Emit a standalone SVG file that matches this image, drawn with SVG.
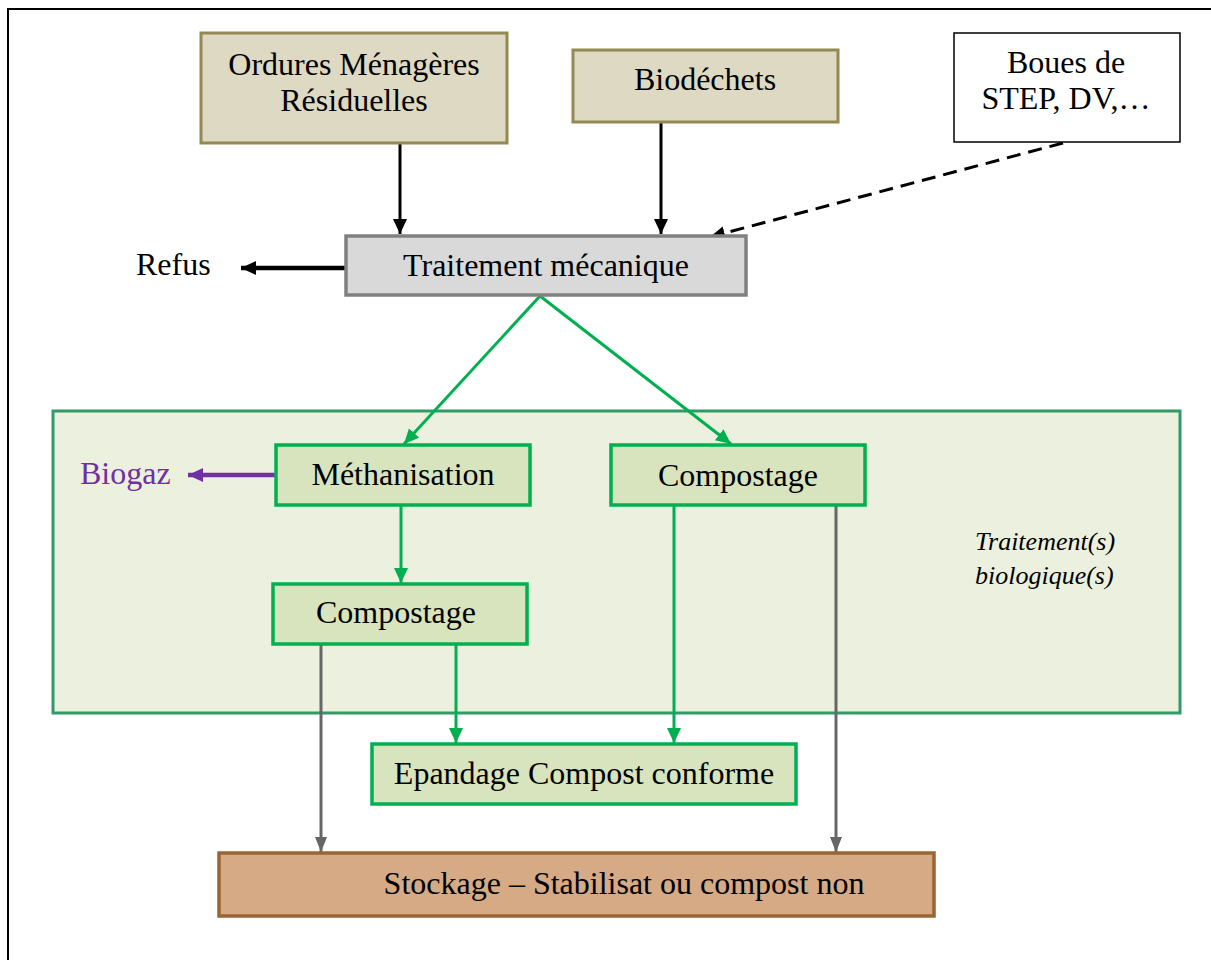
<svg xmlns="http://www.w3.org/2000/svg" width="1211" height="960" viewBox="0 0 1211 960">
<style>
text{font-family:"Liberation Serif","Times New Roman",serif;font-size:32px;fill:#000}
.c{text-anchor:middle}
.it{font-size:26px;font-style:italic}
.src{fill:#ddd9c3;stroke:#938953;stroke-width:3}
.bio{fill:#d7e4bd;stroke:#00b050;stroke-width:3.5}
.blk{stroke:#000;stroke-width:3;fill:none}
.grn{stroke:#00b050;stroke-width:3;fill:none}
.gry{stroke:#666;stroke-width:3;fill:none}
</style>
<defs>
<marker id="aB" markerUnits="userSpaceOnUse" markerWidth="16" markerHeight="16" refX="15" refY="7" orient="auto"><path d="M0,0 L15,7 L0,14 Z" fill="#000"/></marker>
<marker id="aG" markerUnits="userSpaceOnUse" markerWidth="16" markerHeight="16" refX="15" refY="7" orient="auto"><path d="M0,0 L15,7 L0,14 Z" fill="#00b050"/></marker>
<marker id="aY" markerUnits="userSpaceOnUse" markerWidth="16" markerHeight="16" refX="15" refY="6" orient="auto"><path d="M0,0 L15,6 L0,12 Z" fill="#666"/></marker>
<marker id="aP" markerUnits="userSpaceOnUse" markerWidth="16" markerHeight="16" refX="15" refY="7" orient="auto"><path d="M0,0 L15,7 L0,14 Z" fill="#7030a0"/></marker>
</defs>
<rect width="1211" height="960" fill="#fff"/>
<path d="M8,962 L8,9 L1213,9" fill="none" stroke="#000" stroke-width="2"/>
<g id="bio-zone">
<rect x="53" y="411" width="1127" height="302" fill="#ebf1de" stroke="#339966" stroke-width="3"/>
<text class="it" x="975" y="550">Traitement(s)</text>
<text class="it" x="975" y="584">biologique(s)</text>
</g>
<g id="connectors">
<line class="blk" x1="400" y1="143" x2="400" y2="234" marker-end="url(#aB)"/>
<line class="blk" x1="661" y1="122" x2="661" y2="234" marker-end="url(#aB)"/>
<line class="blk" x1="1063" y1="143" x2="710" y2="237" stroke-dasharray="14,8" marker-end="url(#aB)"/>
<line x1="346" y1="268" x2="241" y2="268" stroke="#000" stroke-width="4.5" marker-end="url(#aB)"/>
<line class="grn" x1="540" y1="296" x2="404" y2="444" marker-end="url(#aG)"/>
<line class="grn" x1="540" y1="296" x2="731" y2="444" marker-end="url(#aG)"/>
<line x1="276" y1="475" x2="188" y2="475" stroke="#7030a0" stroke-width="4.5" marker-end="url(#aP)"/>
<line class="grn" x1="401" y1="505" x2="401" y2="583" marker-end="url(#aG)"/>
<line class="grn" x1="456" y1="644" x2="456" y2="743" marker-end="url(#aG)"/>
<line class="grn" x1="674" y1="505" x2="674" y2="743" marker-end="url(#aG)"/>
<line class="gry" x1="321" y1="644" x2="321" y2="852" marker-end="url(#aY)"/>
<line class="gry" x1="836" y1="505" x2="836" y2="852" marker-end="url(#aY)"/>
</g>
<g id="omr">
<rect class="src" x="201" y="33" width="306" height="110"/>
<text class="c" x="354" y="75">Ordures Ménagères</text>
<text class="c" x="354" y="111">Résiduelles</text>
</g>
<g id="biodechets">
<rect class="src" x="573" y="50" width="265" height="72"/>
<text class="c" x="705" y="90">Biodéchets</text>
</g>
<g id="boues">
<rect x="954" y="33" width="226" height="109" fill="#fff" stroke="#000" stroke-width="1.5"/>
<text class="c" x="1066" y="73">Boues de</text>
<text class="c" x="1066" y="109">STEP, DV,…</text>
</g>
<g id="traitement-mecanique">
<rect x="346" y="236" width="400" height="59" fill="#d9d9d9" stroke="#808080" stroke-width="3.5"/>
<text class="c" x="546" y="276">Traitement mécanique</text>
</g>
<g id="refus"><text x="136" y="275">Refus</text></g>
<g id="biogaz"><text x="80" y="484" style="fill:#7030a0">Biogaz</text></g>
<g id="methanisation">
<rect class="bio" x="276" y="445" width="254" height="60"/>
<text class="c" x="403" y="485">Méthanisation</text>
</g>
<g id="compostage-droite">
<rect class="bio" x="611" y="445" width="254" height="60"/>
<text class="c" x="738" y="486">Compostage</text>
</g>
<g id="compostage-gauche">
<rect class="bio" x="273" y="584" width="254" height="60"/>
<text class="c" x="396" y="623">Compostage</text>
</g>
<g id="epandage">
<rect class="bio" x="372" y="744" width="424" height="60"/>
<text class="c" x="584" y="784">Epandage Compost conforme</text>
</g>
<g id="stockage">
<rect x="219" y="853" width="715" height="63" fill="#d6aa84" stroke="#996633" stroke-width="3.5"/>
<text class="c" x="624" y="894">Stockage – Stabilisat ou compost non</text>
</g>
</svg>
